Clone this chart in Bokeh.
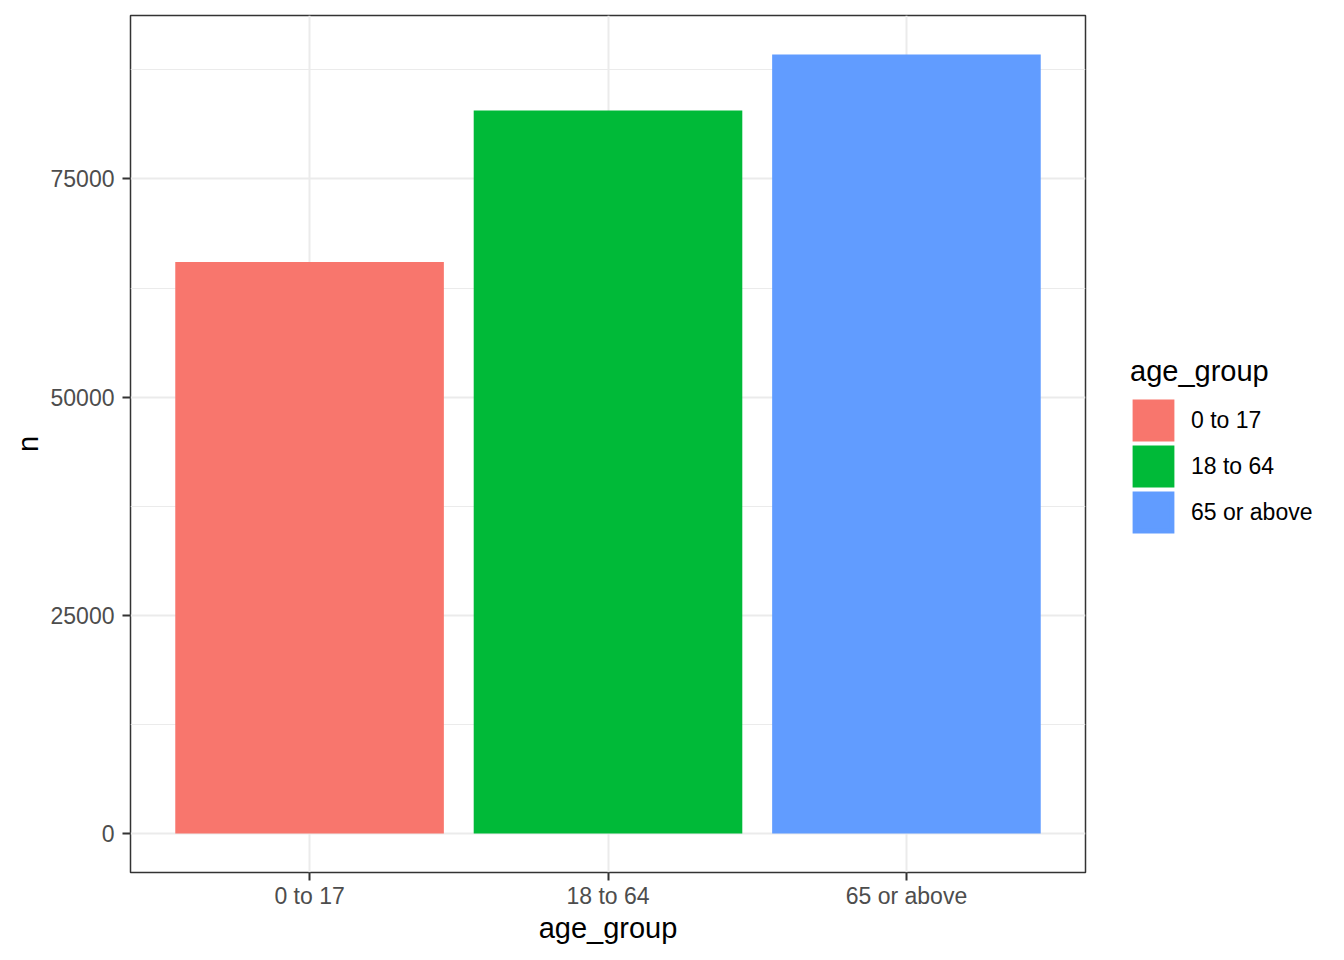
from bokeh.plotting import figure
from bokeh.models import (ColumnDataSource, FactorRange, Range1d, FixedTicker,
                          Legend, LegendItem)
from bokeh.embed import file_html
from bokeh.resources import INLINE

categories = ["0 to 17", "18 to 64", "65 or above"]
counts = [65480, 82850, 89260]
colors = ["#F8766D", "#00BA38", "#619CFF"]
y_ticks = [0, 25000, 50000, 75000]
y_minor = [12500, 37500, 62500, 87500]

FONT = "Liberation Sans"

src = ColumnDataSource(dict(cat=categories, n=counts, color=colors))

ymax = max(counts)
p = figure(frame_width=955, frame_height=857, output_backend="svg", toolbar_location=None,
           x_range=FactorRange(factors=categories, range_padding=0.1,
                               range_padding_units="absolute"),
           y_range=Range1d(-0.05 * ymax, 1.05 * ymax),
           min_border_left=130, min_border_right=200,
           min_border_top=15, min_border_bottom=60)

r = p.vbar(x="cat", top="n", width=0.9, color="color", source=src, line_color=None)

# hidden legend key renderers: only their style is used by the legend
key_renderers = [p.vbar(x="cat", top="n", width=0.9, source=src,
                        fill_color=c, line_color=c, line_width=5,
                        line_join="miter", visible=False)
                 for c in colors]

p.background_fill_color = "white"
p.border_fill_color = "white"
p.outline_line_color = "#333333"
p.outline_line_width = 1.5

# grids
p.xgrid.grid_line_color = "#EBEBEB"
p.xgrid.grid_line_width = 2
p.ygrid.grid_line_color = "#EBEBEB"
p.ygrid.grid_line_width = 2
p.ygrid.minor_grid_line_color = "#EBEBEB"
p.ygrid.minor_grid_line_width = 1
p.yaxis.ticker = FixedTicker(ticks=y_ticks, minor_ticks=y_minor)
p.yaxis.formatter.use_scientific = False

for ax in (p.xaxis[0], p.yaxis[0]):
    ax.axis_line_color = None
    ax.major_tick_line_color = "#333333"
    ax.major_tick_line_width = 2
    ax.major_tick_out = 8
    ax.major_tick_in = 0
    ax.minor_tick_line_color = None
    ax.major_label_text_font = FONT
    ax.major_label_text_font_size = "23px"
    ax.major_label_text_color = "#4D4D4D"
    ax.axis_label_text_font = FONT
    ax.axis_label_text_font_size = "29px"
    ax.axis_label_text_font_style = "normal"
    ax.axis_label_text_color = "black"

p.xaxis.axis_label = "age_group"
p.yaxis.axis_label = "n"
p.yaxis.major_label_standoff = 8
p.yaxis.axis_label_standoff = 4
p.xaxis.major_label_standoff = 2
p.xaxis.axis_label_standoff = 0

items = [LegendItem(label=c, renderers=[kr]) for c, kr in zip(categories, key_renderers)]
legend = Legend(items=items, location=(45, 337), title="age_group",
                orientation="vertical",
                glyph_width=46, glyph_height=46, spacing=0, label_standoff=15,
                label_text_font=FONT, label_text_font_size="23px",
                label_text_color="black",
                title_text_font=FONT, title_text_font_size="29px",
                title_text_font_style="normal", title_text_color="black",
                title_standoff=9,
                inactive_fill_alpha=0,
                padding=0, margin=0, border_line_color=None,
                background_fill_alpha=0)
p.add_layout(legend, "right")

open("out.html", "w").write(file_html(p, INLINE))
